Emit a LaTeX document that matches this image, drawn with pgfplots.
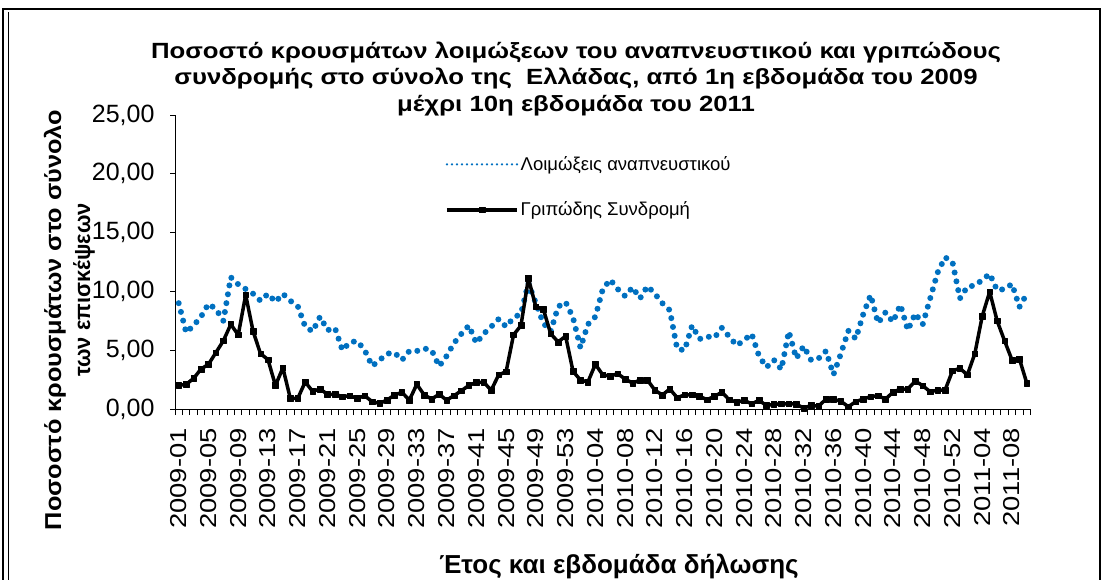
\documentclass[border=0pt]{standalone}
\usepackage{pgfplots}
\pgfplotsset{compat=1.18}
\usepackage{pgfplotstable}
\usepackage{fontspec}
\setmainfont{Liberation Sans}
\definecolor{resp}{RGB}{0,112,192}

\pgfplotstableread{
i resp ili
0 9.0 2.0
1 6.5 2.1
2 7.1 2.6
3 7.85 3.4
4 8.95 3.8
5 8.5 4.8
6 7.5 5.8
7 11.2 7.2
8 10.6 6.3
9 10.2 9.7
10 9.8 6.6
11 9.2 4.7
12 9.8 4.2
13 9.1 2.0
14 9.8 3.5
15 9.2 0.9
16 8.75 0.9
17 7.0 2.3
18 6.6 1.5
19 7.85 1.7
20 6.7 1.25
21 6.9 1.25
22 5.0 1.05
23 5.67 1.13
24 5.78 0.9
25 5.0 1.13
26 3.65 0.62
27 4.16 0.48
28 4.7 0.76
29 4.8 1.19
30 4.16 1.42
31 4.93 0.76
32 4.93 2.1
33 5.15 1.19
34 5.0 0.85
35 3.63 1.25
36 4.5 0.76
37 5.6 1.13
38 6.4 1.56
39 7.1 2.0
40 5.6 2.27
41 6.4 2.27
42 7.0 1.6
43 7.65 2.9
44 7.0 3.17
45 7.76 6.3
46 8.1 7.1
47 10.7 11.1
48 9.0 8.7
49 7.3 8.5
50 6.6 6.4
51 8.7 5.7
52 9.1 6.2
53 7.76 3.2
54 5.2 2.46
55 7.2 2.3
56 7.85 3.8
57 10.2 2.9
58 11.0 2.8
59 10.2 3.0
60 9.6 2.55
61 10.35 2.2
62 9.4 2.46
63 10.45 2.46
64 9.8 1.6
65 9.0 1.19
66 8.4 1.7
67 5.1 0.96
68 5.0 1.2
69 7.1 1.2
70 5.95 1.07
71 6.17 0.8
72 6.06 1.07
73 6.9 1.43
74 6.15 0.78
75 5.4 0.58
76 5.85 0.73
77 6.4 0.44
78 4.5 0.73
79 3.55 0.3
80 4.17 0.41
81 3.37 0.44
82 6.6 0.45
83 4.3 0.41
84 5.35 0.08
85 4.15 0.3
86 4.3 0.24
87 4.93 0.84
88 2.92 0.84
89 4.7 0.65
90 6.65 0.2
91 5.97 0.62
92 8.05 0.85
93 9.7 1.05
94 7.3 1.13
95 8.22 0.85
96 7.4 1.42
97 8.87 1.7
98 6.7 1.7
99 8.13 2.38
100 7.2 1.98
101 9.4 1.47
102 11.6 1.6
103 12.9 1.6
104 12.5 3.25
105 9.4 3.46
106 10.4 2.9
107 10.5 4.7
108 10.97 7.9
109 11.5 9.97
110 10.1 7.5
111 10.2 5.8
112 10.63 4.16
113 8.68 4.25
114 9.8 2.18
}\data

\begin{document}
\begin{tikzpicture}
\useasboundingbox (0pt,0pt) rectangle (1105pt,-580pt);
% chart frame
\draw[line width=1.5pt] (3pt,-600pt) -- (3pt,-9pt) -- (1100pt,-9pt) -- (1100pt,-600pt);
\draw[line width=1pt] (8pt,-600pt) -- (8pt,-12pt);
% title
\node[anchor=north, align=center, xscale=1.17, font=\bfseries\fontsize{22}{26.7}\selectfont] at (576pt,-38pt)
{Ποσοστό κρουσμάτων λοιμώξεων του αναπνευστικού και γριπώδους\\
συνδρομής στο σύνολο της~ Ελλάδας, από 1η εβδομάδα του 2009\\
μέχρι 10η εβδομάδα του 2011};
% y label
\node[rotate=90, xscale=1.1, font=\bfseries\fontsize{23}{27}\selectfont] at (55pt,-320pt) {Ποσοστό κρουσμάτων στο σύνολο};
\node[rotate=90, xscale=0.95, font=\bfseries\fontsize{23}{27}\selectfont] at (84pt,-290pt) {των επισκέψεων};
% x label
\node[font=\bfseries\fontsize{26}{30}\selectfont] at (619pt,-566pt) {Έτος και εβδομάδα δήλωσης};

\begin{axis}[
  at={(175pt,-409pt)}, anchor=south west,
  scale only axis, width=855.6pt, height=294pt,
  xmin=-0.5, xmax=114.5, ymin=0, ymax=25,
  axis lines*=left,
  axis line style={line width=1pt, black},
  tick align=outside,
  major tick length=5pt, minor tick length=6pt,
  tick style={black, line width=1pt},
  ytick={0,5,...,25},
  /pgf/number format/fixed,
  /pgf/number format/fixed zerofill,
  /pgf/number format/precision=2,
  /pgf/number format/use comma,
  /pgf/number format/assume math mode=true,
  yticklabel shift=12pt,
  y tick label style={font=\fontsize{25}{28}\selectfont},
  xtick={0,4,...,112},
  xticklabels={2009-01,2009-05,2009-09,2009-13,2009-17,2009-21,2009-25,2009-29,2009-33,2009-37,2009-41,2009-45,2009-49,2009-53,2010-04,2010-08,2010-12,2010-16,2010-20,2010-24,2010-28,2010-32,2010-36,2010-40,2010-44,2010-48,2010-52,2011-04,2011-08},
  major x tick style={draw=none},
  minor xtick={-0.5,0.5,...,114.5},
  x tick label style={rotate=90, xscale=1.19, anchor=east, font=\fontsize{23}{28}\selectfont},
  xticklabel shift=10pt,
  legend image code/.code={\draw[mark repeat=2,mark phase=2,#1] plot coordinates {(0pt,0pt) (35pt,0pt) (70pt,0pt)};},
  legend style={at={(0.3156,0.866)}, anchor=north west, draw=none, fill=none, inner sep=0pt,
    row sep=26pt, font=\fontsize{18.5}{21}\selectfont,
    /tikz/every even column/.append style={column sep=7pt}},
  legend cell align=left,
]
\addplot[resp, line width=6pt, line cap=round, dash pattern=on 0pt off 9pt,
  legend image post style={line width=2.5pt, dash pattern=on 0pt off 5pt}] table[x=i, y=resp] {\data};
\addlegendentry{Λοιμώξεις αναπνευστικού}
\addplot[black, line width=3.5pt, line join=round, mark=square*, mark size=2.8pt, mark options={solid, line width=0.5pt}] table[x=i, y=ili] {\data};
\addlegendentry{Γριπώδης Συνδρομή}
\end{axis}
\end{tikzpicture}
\end{document}
